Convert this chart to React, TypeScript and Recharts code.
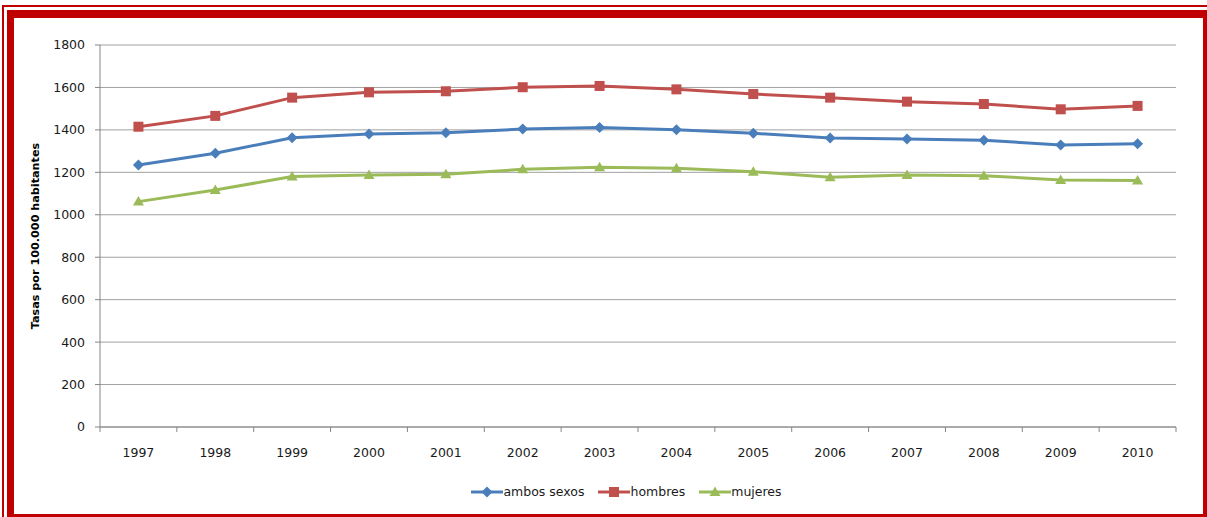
import React from 'react';
import { LineChart, Line, XAxis, YAxis, CartesianGrid, Legend, Label } from 'recharts';

const YEARS = ['1997', '1998', '1999', '2000', '2001', '2002', '2003', '2004', '2005', '2006', '2007', '2008', '2009', '2010'];
const AMBOS = [1235, 1290, 1363, 1381, 1387, 1404, 1411, 1401, 1384, 1362, 1357, 1351, 1329, 1335];
const HOMBRES = [1415, 1466, 1552, 1577, 1582, 1601, 1607, 1591, 1569, 1552, 1533, 1522, 1497, 1513];
const MUJERES = [1062, 1117, 1180, 1188, 1191, 1214, 1224, 1219, 1203, 1177, 1188, 1184, 1164, 1161];
const Y_TICKS = [0, 200, 400, 600, 800, 1000, 1200, 1400, 1600, 1800];

const SERIES = [
  { key: 'ambos', name: 'ambos sexos', color: '#4A7EBB', shape: 'diamond' },
  { key: 'hombres', name: 'hombres', color: '#C0504D', shape: 'square' },
  { key: 'mujeres', name: 'mujeres', color: '#9BBB59', shape: 'triangle' },
];

const data = YEARS.map((year, i) => ({
  idx: i,
  year,
  ambos: AMBOS[i],
  hombres: HOMBRES[i],
  mujeres: MUJERES[i],
}));

// labels at category centres, tick marks at category boundaries (Excel style)
const X_TICKS = YEARS.flatMap((_, i) => [i - 0.5, i]).concat(YEARS.length - 0.5);

const FONT = '"DejaVu Sans", Verdana, sans-serif';
const AXIS = '#868686';

function marker(shape: string, cx: number, cy: number, color: string, key?: string) {
  if (shape === 'diamond') {
    return <polygon key={key} points={`${cx},${cy - 5.5} ${cx + 5.5},${cy} ${cx},${cy + 5.5} ${cx - 5.5},${cy}`} fill={color} />;
  }
  if (shape === 'square') {
    return <rect key={key} x={cx - 5} y={cy - 5} width={10} height={10} fill={color} />;
  }
  return <polygon key={key} points={`${cx},${cy - 5.5} ${cx + 5.5},${cy + 4} ${cx - 5.5},${cy + 4}`} fill={color} />;
}

const makeDot = (shape: string, color: string) => (props: any) => {
  const { cx, cy, index } = props;
  if (cx == null || cy == null) return <g key={`d-${index}`} />;
  return marker(shape, cx, cy, color, `d-${shape}-${index}`);
};

const XTick = (props: any) => {
  const { x, y, payload } = props;
  const v = payload.value;
  if (!Number.isInteger(v)) {
    return <line x1={x} x2={x} y1={y - 5} y2={y} stroke={AXIS} strokeWidth={1} />;
  }
  return (
    <text x={x} y={y + 25} textAnchor="middle" fontSize={12.5} fontFamily={FONT} fill="#1a1a1a">
      {YEARS[v]}
    </text>
  );
};

const LegendContent = () => (
  <div style={{ display: 'flex', justifyContent: 'center', alignItems: 'center', fontFamily: FONT, fontSize: 12.5, color: '#1a1a1a' }}>
    {SERIES.map((s) => (
      <div key={s.key} style={{ display: 'flex', alignItems: 'center', marginRight: 14 }}>
        <svg width={32} height={12}>
          <line x1={0} x2={32} y1={6} y2={6} stroke={s.color} strokeWidth={3} />
          {marker(s.shape, 16, 6, s.color)}
        </svg>
        <span>{s.name}</span>
      </div>
    ))}
  </div>
);

export default function App() {
  return (
    <div style={{ position: 'absolute', left: 0, top: 0, width: 1207, height: 517, overflow: 'hidden', background: '#fff' }}>
      {/* double red frame */}
      <div style={{ position: 'absolute', left: 2, top: 5, width: 1220, height: 530, border: '2px solid #C00000' }} />
      <div
        style={{
          position: 'absolute', left: 7, top: 10, width: 1189, height: 496,
          borderLeft: '7px solid #C00000', borderTop: '8px solid #C00000',
          borderRight: '7px solid #C00000', borderBottom: '7px solid #C00000',
        }}
      />
      <div style={{ position: 'absolute', left: 0, top: 0 }}>
        <LineChart width={1207} height={517} data={data} margin={{ top: 45, right: 31, left: 0, bottom: 40 }}>
          <CartesianGrid vertical={false} stroke="#A0A0A0" strokeWidth={1} />
          <XAxis
            dataKey="idx"
            type="number"
            domain={[-0.5, YEARS.length - 0.5]}
            ticks={X_TICKS}
            interval={0}
            tickLine={false}
            tickSize={5}
            tickMargin={0}
            tick={XTick}
            height={30}
            stroke={AXIS}
            allowDataOverflow
          />
          <YAxis
            domain={[0, 1800]}
            ticks={Y_TICKS}
            interval={0}
            width={100}
            tickSize={5}
            tickMargin={10}
            stroke={AXIS}
            tick={{ fill: '#1a1a1a', fontSize: 12.5, fontFamily: FONT }}
          >
            <Label
              content={({ viewBox }: any) => {
                const cx = viewBox.x + 35;
                const cy = viewBox.y + viewBox.height / 2;
                return (
                  <text
                    x={cx}
                    y={cy}
                    transform={`rotate(-90, ${cx}, ${cy})`}
                    textAnchor="middle"
                    dominantBaseline="central"
                    fontSize={11.2}
                    fontWeight="bold"
                    fontFamily={FONT}
                    fill="#000"
                  >
                    Tasas por 100.000 habitantes
                  </text>
                );
              }}
            />
          </YAxis>
          {SERIES.map((s) => (
            <Line
              key={s.key}
              dataKey={s.key}
              name={s.name}
              stroke={s.color}
              strokeWidth={3}
              dot={makeDot(s.shape, s.color)}
              activeDot={false}
              isAnimationActive={false}
            />
          ))}
          <Legend
            verticalAlign="bottom"
            height={20}
            content={LegendContent}
            wrapperStyle={{ top: 484, left: 60, width: 1147, height: 20 }}
          />
        </LineChart>
      </div>
    </div>
  );
}
